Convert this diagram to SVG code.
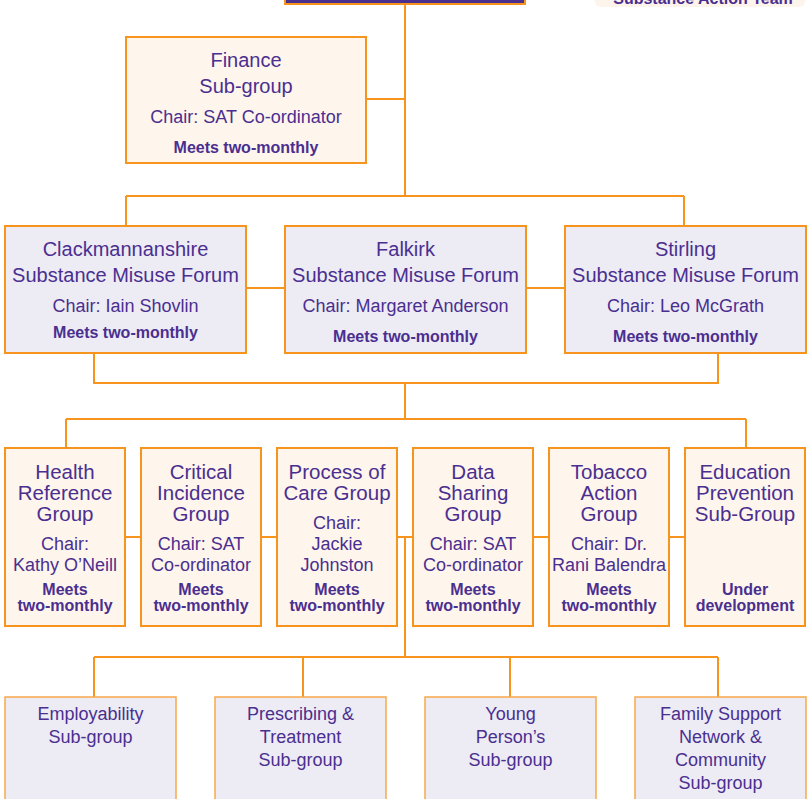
<svg xmlns="http://www.w3.org/2000/svg" width="809" height="799" viewBox="0 0 809 799">
<style>
.peach{fill:#fef5ec;stroke:#f7941d;stroke-width:2}
.lav{fill:#edebf4;stroke:#f7941d;stroke-width:2}
.lavthin{fill:#edebf4;stroke:#f9a84a;stroke-width:1.5}
.t{font-family:"Liberation Sans",Arial,sans-serif;fill:#4a2f90;text-anchor:middle}
.h{font-size:20px}
.h3{font-size:20.5px}
.c{font-size:18px}
.m{font-size:16px;font-weight:bold}
.b{font-size:18px}
.conn{fill:none;stroke:#f7941d;stroke-width:2}
</style>
<rect width="809" height="799" fill="#ffffff"/>
<g id="connectors">
<path class="conn" d="M405,4 V196 M366,99 H405 M126,196 H684 M126,196 V226 M684,196 V226"/>
<path class="conn" d="M246,288 H285 M526,288 H565"/>
<path class="conn" d="M94,353 V383 H718 V353 M405,383 V419 M66,419 H746 M66,419 V448 M746,419 V448"/>
<path class="conn" d="M125,537 H141 M261,537 H277 M397,537 H413 M533,537 H549 M669,537 H685"/>
<path class="conn" d="M405,537 V657 M94,657 H718 M94,657 V697 M303,657 V697 M510,657 V697 M718,657 V697"/>
</g>
<g id="top">
<rect x="285" y="-60" width="240" height="64" fill="#4a2f8f" stroke="#f7941d" stroke-width="2"/>
</g>
<g id="sat-label">
<rect x="595" y="-10" width="210" height="17" rx="6" fill="#fdf4ec"/>
<text class="t" x="703" y="4" style="font-size:16px;font-weight:bold">Substance Action Team</text>
</g>
<g id="finance">
<rect class="peach" x="126" y="37" width="240" height="126"/>
<text class="t h" x="246" y="67">Finance</text>
<text class="t h" x="246" y="93">Sub-group</text>
<text class="t c" x="246" y="123">Chair: SAT Co-ordinator</text>
<text class="t m" x="246" y="153">Meets two-monthly</text>
</g>
<g id="clackmannanshire">
<rect class="lav" x="5" y="226" width="241" height="127"/>
<text class="t h" x="125.5" y="256">Clackmannanshire</text>
<text class="t h" x="125.5" y="282">Substance Misuse Forum</text>
<text class="t c" x="125.5" y="312">Chair: Iain Shovlin</text>
<text class="t m" x="125.5" y="338">Meets two-monthly</text>
</g>
<g id="falkirk">
<rect class="lav" x="285" y="226" width="241" height="127"/>
<text class="t h" x="405.5" y="256">Falkirk</text>
<text class="t h" x="405.5" y="282">Substance Misuse Forum</text>
<text class="t c" x="405.5" y="312">Chair: Margaret Anderson</text>
<text class="t m" x="405.5" y="342">Meets two-monthly</text>
</g>
<g id="stirling">
<rect class="lav" x="565" y="226" width="241" height="127"/>
<text class="t h" x="685.5" y="256">Stirling</text>
<text class="t h" x="685.5" y="282">Substance Misuse Forum</text>
<text class="t c" x="685.5" y="312">Chair: Leo McGrath</text>
<text class="t m" x="685.5" y="342">Meets two-monthly</text>
</g>
<g id="health">
<rect class="peach" x="5" y="448" width="120" height="178"/>
<text class="t h3" x="65" y="479">Health</text>
<text class="t h3" x="65" y="500">Reference</text>
<text class="t h3" x="65" y="521">Group</text>
<text class="t c" x="65" y="550">Chair:</text>
<text class="t c" x="65" y="571">Kathy O’Neill</text>
<text class="t m" x="65" y="595">Meets</text>
<text class="t m" x="65" y="611">two-monthly</text>
</g>
<g id="critical">
<rect class="peach" x="141" y="448" width="120" height="178"/>
<text class="t h3" x="201" y="479">Critical</text>
<text class="t h3" x="201" y="500">Incidence</text>
<text class="t h3" x="201" y="521">Group</text>
<text class="t c" x="201" y="550">Chair: SAT</text>
<text class="t c" x="201" y="571">Co-ordinator</text>
<text class="t m" x="201" y="595">Meets</text>
<text class="t m" x="201" y="611">two-monthly</text>
</g>
<g id="process">
<rect class="peach" x="277" y="448" width="120" height="178"/>
<text class="t h3" x="337" y="479">Process of</text>
<text class="t h3" x="337" y="500">Care Group</text>
<text class="t c" x="337" y="529">Chair:</text>
<text class="t c" x="337" y="550">Jackie</text>
<text class="t c" x="337" y="571">Johnston</text>
<text class="t m" x="337" y="595">Meets</text>
<text class="t m" x="337" y="611">two-monthly</text>
</g>
<g id="data">
<rect class="peach" x="413" y="448" width="120" height="178"/>
<text class="t h3" x="473" y="479">Data</text>
<text class="t h3" x="473" y="500">Sharing</text>
<text class="t h3" x="473" y="521">Group</text>
<text class="t c" x="473" y="550">Chair: SAT</text>
<text class="t c" x="473" y="571">Co-ordinator</text>
<text class="t m" x="473" y="595">Meets</text>
<text class="t m" x="473" y="611">two-monthly</text>
</g>
<g id="tobacco">
<rect class="peach" x="549" y="448" width="120" height="178"/>
<text class="t h3" x="609" y="479">Tobacco</text>
<text class="t h3" x="609" y="500">Action</text>
<text class="t h3" x="609" y="521">Group</text>
<text class="t c" x="609" y="550">Chair: Dr.</text>
<text class="t c" x="609" y="571">Rani Balendra</text>
<text class="t m" x="609" y="595">Meets</text>
<text class="t m" x="609" y="611">two-monthly</text>
</g>
<g id="education">
<rect class="peach" x="685" y="448" width="120" height="178"/>
<text class="t h3" x="745" y="479">Education</text>
<text class="t h3" x="745" y="500">Prevention</text>
<text class="t h3" x="745" y="521">Sub-Group</text>
<text class="t m" x="745" y="595">Under</text>
<text class="t m" x="745" y="611">development</text>
</g>
<g id="employability">
<rect class="lavthin" x="5" y="697" width="171" height="110"/>
<text class="t b" x="90.5" y="720">Employability</text>
<text class="t b" x="90.5" y="743">Sub-group</text>
</g>
<g id="prescribing">
<rect class="lavthin" x="215" y="697" width="171" height="110"/>
<text class="t b" x="300.5" y="720">Prescribing &amp;</text>
<text class="t b" x="300.5" y="743">Treatment</text>
<text class="t b" x="300.5" y="766">Sub-group</text>
</g>
<g id="young">
<rect class="lavthin" x="425" y="697" width="171" height="110"/>
<text class="t b" x="510.5" y="720">Young</text>
<text class="t b" x="510.5" y="743">Person’s</text>
<text class="t b" x="510.5" y="766">Sub-group</text>
</g>
<g id="family">
<rect class="lavthin" x="635" y="697" width="171" height="110"/>
<text class="t b" x="720.5" y="720">Family Support</text>
<text class="t b" x="720.5" y="743">Network &amp;</text>
<text class="t b" x="720.5" y="766">Community</text>
<text class="t b" x="720.5" y="789">Sub-group</text>
</g>
</svg>
